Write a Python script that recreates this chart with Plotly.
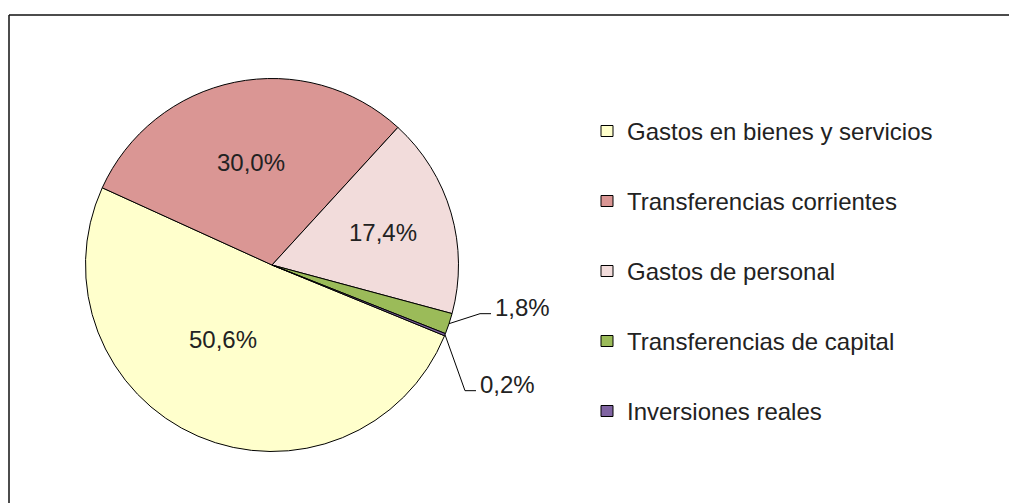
import math
import plotly.graph_objects as go

# ---- data ----
categories = ["Gastos en bienes y servicios", "Transferencias corrientes",
              "Gastos de personal", "Transferencias de capital", "Inversiones reales"]
values = [50.6, 30.0, 17.4, 1.8, 0.2]
value_labels = ["50,6%", "30,0%", "17,4%", "1,8%", "0,2%"]
colors = ["#FFFFCC", "#DA9694", "#F2DCDB", "#9BBB59", "#8064A2"]

# ---- layout constants (pixels) ----
W, H = 1009, 503
CX, CY, R = 272, 265, 186.5
ROT = 112.3
FONT = "Liberation Sans"
TXT = "#222222"
FS = 24
INSIDE_R = [0.48, 0.56, 0.62]          # label radius fraction for inside labels
INSIDE_DA = [10.0, 0.0, 0.0]           # label angle offset (deg) for inside labels
LEADER = {3: (31, -10), 4: (20, 56)}   # elbow offsets for outside labels


def px(x):
    return x / W


def py(y):
    return 1 - y / H


fig = go.Figure(go.Pie(
    labels=categories, values=values, sort=False, direction="clockwise",
    rotation=ROT, textinfo="none", hoverinfo="label+percent",
    marker=dict(colors=colors, line=dict(color="#000000", width=1)),
    domain=dict(x=[px(CX - R), px(CX + R)], y=[py(CY + R), py(CY - R)]),
    showlegend=False,
))

annotations = []
shapes = []
total = sum(values)
start = ROT
for i, v in enumerate(values):
    span = 360 * v / total
    midd = start + span / 2
    if i in LEADER:
        mid = math.radians(midd)
        dx, dy = math.sin(mid), -math.cos(mid)
        ex, ey = CX + R * dx, CY + R * dy
        ox, oy = LEADER[i]
        kx, ky = ex + ox, ey + oy
        hx = kx + 11
        shapes.append(dict(type="line", xref="paper", yref="paper",
                           x0=px(ex), y0=py(ey), x1=px(kx), y1=py(ky),
                           line=dict(color="#000000", width=1)))
        shapes.append(dict(type="line", xref="paper", yref="paper",
                           x0=px(kx), y0=py(ky), x1=px(hx), y1=py(ky),
                           line=dict(color="#000000", width=1)))
        annotations.append(dict(x=px(hx + 2), y=py(ky - 6), xref="paper", yref="paper",
                                text=value_labels[i], showarrow=False,
                                xanchor="left", yanchor="middle",
                                font=dict(family=FONT, size=FS, color=TXT)))
    else:
        mid = math.radians(midd + INSIDE_DA[i])
        dx, dy = math.sin(mid), -math.cos(mid)
        rr = R * INSIDE_R[i]
        annotations.append(dict(x=px(CX + rr * dx), y=py(CY + rr * dy),
                                xref="paper", yref="paper",
                                text=value_labels[i], showarrow=False,
                                xanchor="center", yanchor="middle",
                                font=dict(family=FONT, size=FS, color=TXT)))
    start += span

# manual legend
LEG_X, LEG_Y0, LEG_DY = 607, 131, 70
for i, name in enumerate(categories):
    yy = LEG_Y0 + i * LEG_DY
    shapes.append(dict(type="rect", xref="paper", yref="paper",
                       x0=px(LEG_X - 6), x1=px(LEG_X + 6),
                       y0=py(yy + 5.5), y1=py(yy - 5.5),
                       fillcolor=colors[i], line=dict(color="#000000", width=1)))
    annotations.append(dict(x=px(625), y=py(yy), xref="paper", yref="paper",
                            text=name, showarrow=False, xanchor="left", yanchor="middle",
                            font=dict(family=FONT, size=FS, color=TXT)))

# chart frame (only top and left edges are visible in the crop)
frame = dict(color="#111111", width=1.5)
shapes.append(dict(type="line", xref="paper", yref="paper",
                   x0=px(9), x1=1.0, y0=py(15), y1=py(15), line=frame))
shapes.append(dict(type="line", xref="paper", yref="paper",
                   x0=px(9), x1=px(9), y0=py(15), y1=0.0, line=frame))

fig.update_layout(width=W, height=H, autosize=False,
                  margin=dict(l=0, r=0, t=0, b=0),
                  paper_bgcolor="white", plot_bgcolor="white",
                  annotations=annotations, shapes=shapes,
                  font=dict(family=FONT, color=TXT))

fig.write_html("out.html", config={"displayModeBar": False},
               post_script="document.body.style.margin='0';document.body.style.overflow='hidden';")
